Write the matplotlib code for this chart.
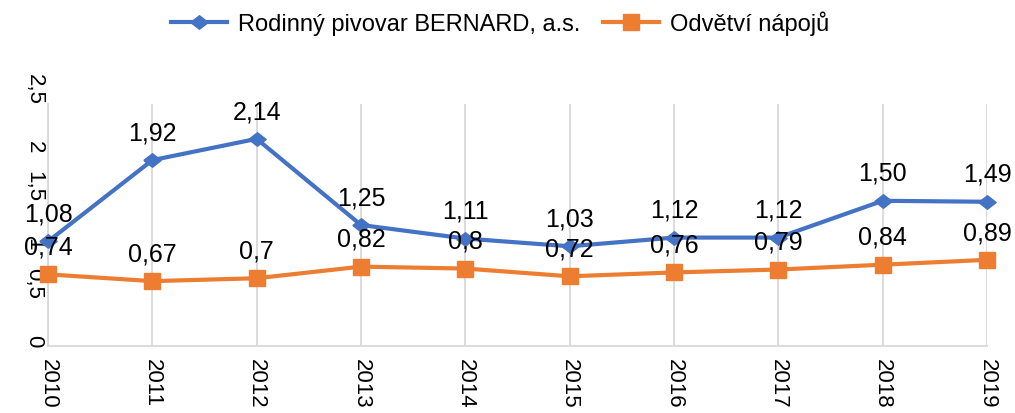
import matplotlib
matplotlib.use("Agg")
import matplotlib.pyplot as plt

plt.rcParams["font.family"] = ["Liberation Sans", "DejaVu Sans"]

# Data
years = [2010, 2011, 2012, 2013, 2014, 2015, 2016, 2017, 2018, 2019]
bernard = [1.08, 1.92, 2.14, 1.25, 1.11, 1.03, 1.12, 1.12, 1.50, 1.49]
bernard_labels = ["1,08", "1,92", "2,14", "1,25", "1,11", "1,03", "1,12", "1,12", "1,50", "1,49"]
odvetvi = [0.74, 0.67, 0.70, 0.82, 0.80, 0.72, 0.76, 0.79, 0.84, 0.89]
odvetvi_labels = ["0,74", "0,67", "0,7", "0,82", "0,8", "0,72", "0,76", "0,79", "0,84", "0,89"]
y_ticks = [0, 0.5, 1, 1.5, 2, 2.5]
y_tick_labels = ["0", "0,5", "1", "1,5", "2", "2,5"]

blue = "#4472C4"
orange = "#ED7D31"
grid_col = "#D9D9D9"

fig = plt.figure(figsize=(10.15, 4.14), dpi=100)
ax = fig.add_axes([48 / 1015, 67 / 414, (987 - 48) / 1015, (347 - 105) / 414])

diamond = [(-1, 0), (0, 0.78), (1, 0), (0, -0.78), (-1, 0)]
ax.plot(years, bernard, color=blue, lw=3, marker=diamond, ms=12.5,
        label="Rodinný pivovar BERNARD, a.s.", clip_on=False, zorder=3)
ax.plot(years, odvetvi, color=orange, lw=3, marker="s", ms=12,
        label="Odvětví nápojů", clip_on=False, zorder=3)

for x, y, t in zip(years, bernard, bernard_labels):
    ax.annotate(t, (x, y), xytext=(0, 15), textcoords="offset points",
                ha="center", va="baseline", fontsize=18, zorder=4)
for x, y, t in zip(years, odvetvi, odvetvi_labels):
    ax.annotate(t, (x, y), xytext=(0, 15), textcoords="offset points",
                ha="center", va="baseline", fontsize=18, zorder=4)

ax.set_xlim(2010, 2019)
ax.set_ylim(0, 2.5)
ax.set_xticks(years)
ax.set_xticklabels([str(y) for y in years], rotation=-90, ha="center", va="top",
                   fontsize=16)
ax.set_yticks(y_ticks)
ax.set_yticklabels(y_tick_labels, rotation=-90, ha="center", va="bottom",
                   fontsize=16)
ax.tick_params(axis="x", length=0, pad=9)
ax.tick_params(axis="y", length=0, pad=10)

ax.grid(axis="x", color=grid_col, lw=1.3)
ax.set_axisbelow(True)
for s in ["top", "right"]:
    ax.spines[s].set_visible(False)
for s in ["left", "bottom"]:
    ax.spines[s].set_color(grid_col)
    ax.spines[s].set_linewidth(1.3)

fig.legend(loc="center", bbox_to_anchor=(500 / 1015, 1 - 24 / 414), ncol=2,
           frameon=False, fontsize=17, handlelength=2.4, handletextpad=0.45,
           columnspacing=0.95)

fig.savefig("out.png", dpi=100)
